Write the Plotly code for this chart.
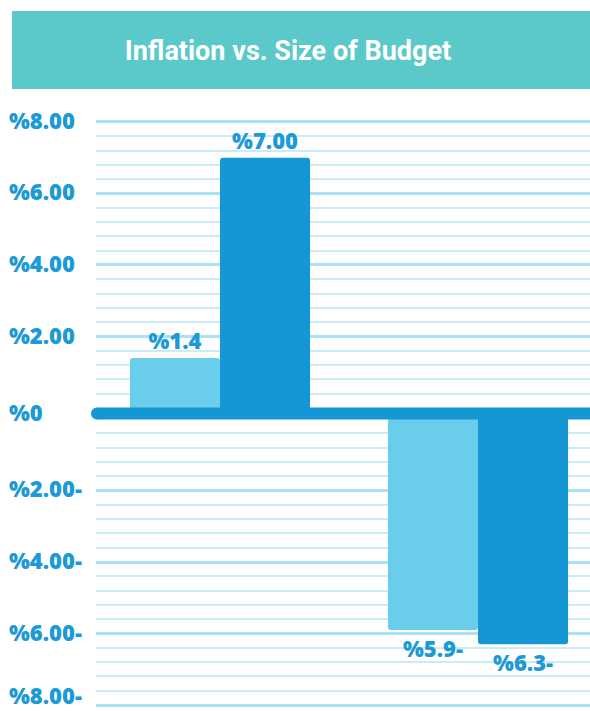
import plotly.graph_objects as go

# ---- data ----
categories = ["Group 1", "Group 2"]
series_names = ["Series A", "Series B"]
light_values = [1.4, -5.9]
dark_values = [7.0, -6.3]
light_labels = ["%1.4", "%5.9-"]
dark_labels = ["%7.00", "%6.3-"]
tick_values = [8, 6, 4, 2, 0, -2, -4, -6, -8]
tick_labels = ["%8.00", "%6.00", "%4.00", "%2.00", "%0", "%2.00-", "%4.00-", "%6.00-", "%8.00-"]
title_text = "Inflation vs. Size of Budget"

# ---- style ----
W, H = 590, 711
ML = 96
PW = W - ML
LIGHT = "#6ACDEC"
DARK = "#1497D4"
TEXT = "#1B9AD6"
MAJOR = "#ABE1F4"
MINOR = "#CBECF7"
BANNER = "#5BC9C9"
LABEL_FONT = dict(family="Open Sans", size=22, color=TEXT, weight=800)
PX_PER_UNIT = 35.75
Y0_TOP, Y0_BOT = 408, 419
RMAX = 8.1


def px_x(px):
    return (px - ML) / PW


def px_y(py):
    return 1 - py / H


fig = go.Figure()

series = [
    (light_values, light_labels, LIGHT, series_names[0], "a"),
    (dark_values, dark_labels, DARK, series_names[1], "b"),
]
for vals, labels, color, name, og in series:
    for sub, keep in (("", lambda v: v >= 0), ("2", lambda v: v < 0)):
        fig.add_trace(go.Bar(
            x=categories,
            y=[v if keep(v) else None for v in vals],
            text=[t if keep(v) else "" for v, t in zip(vals, labels)],
            textposition="outside",
            textfont=LABEL_FONT,
            constraintext="none",
            cliponaxis=False,
            marker=dict(color=color, line=dict(width=0), cornerradius=3),
            name=name,
            offsetgroup=og,
            xaxis="x" + sub,
            yaxis="y" + sub,
            hoverinfo="skip",
        ))

yax_common = dict(
    dtick=2, tick0=0, showgrid=True, gridcolor=MAJOR, gridwidth=3,
    minor=dict(dtick=0.4, tick0=0, showgrid=True, gridcolor=MINOR, gridwidth=1.5),
    zeroline=False, showticklabels=False, showline=False, ticks="",
)

x_range = [-124 / 258, (PW - 124) / 258]

fig.update_layout(
    width=W, height=H,
    margin=dict(l=ML, r=0, t=0, b=0),
    plot_bgcolor="white", paper_bgcolor="white",
    showlegend=False,
    barmode="group", bargap=0.302, bargroupgap=0,
    xaxis=dict(domain=[0, 1], range=x_range, anchor="y", showticklabels=False,
               showgrid=False, zeroline=False, showline=False, ticks=""),
    xaxis2=dict(domain=[0, 1], range=x_range, anchor="y2", matches="x", showticklabels=False,
                showgrid=False, zeroline=False, showline=False, ticks=""),
    yaxis=dict(domain=[px_y(Y0_TOP), px_y(Y0_TOP - RMAX * PX_PER_UNIT)], range=[0, RMAX],
               anchor="x", **yax_common),
    yaxis2=dict(domain=[px_y(Y0_BOT + RMAX * PX_PER_UNIT), px_y(Y0_BOT)], range=[-RMAX, 0],
                anchor="x2", **yax_common),
    title=dict(text=title_text, x=288 / W, y=px_y(51), xref="container", yref="container",
               xanchor="center", yanchor="middle",
               font=dict(family="Roboto", size=27, color="white", weight="bold")),
)

# banner
fig.add_shape(type="rect", xref="paper", yref="paper", layer="below",
              x0=px_x(12), x1=px_x(592), y0=px_y(89), y1=px_y(11),
              fillcolor=BANNER, line=dict(width=0))

# zero bar
fig.add_shape(type="rect", xref="paper", yref="paper", layer="above",
              x0=px_x(97), x1=px_x(592), y0=px_y(419.5), y1=px_y(407.5),
              fillcolor=DARK, line=dict(width=0))
fig.add_shape(type="circle", xref="paper", yref="paper", layer="above",
              x0=px_x(91), x1=px_x(103), y0=px_y(419.5), y1=px_y(407.5),
              fillcolor=DARK, line=dict(width=0))

# y tick labels (left aligned)
lowest = min(tick_values)
for v, t in zip(tick_values, tick_labels):
    if v > 0:
        yref, yy = "y", v
    elif v < 0:
        yref, yy = "y2", v
    else:
        yref, yy = "paper", px_y(413.5)
    fig.add_annotation(text=t, x=px_x(7), xref="paper", xanchor="left",
                       y=yy, yref=yref, yanchor="middle",
                       yshift=10 if v == lowest else 2,
                       showarrow=False, font=LABEL_FONT)

fig.write_html("out.html")
